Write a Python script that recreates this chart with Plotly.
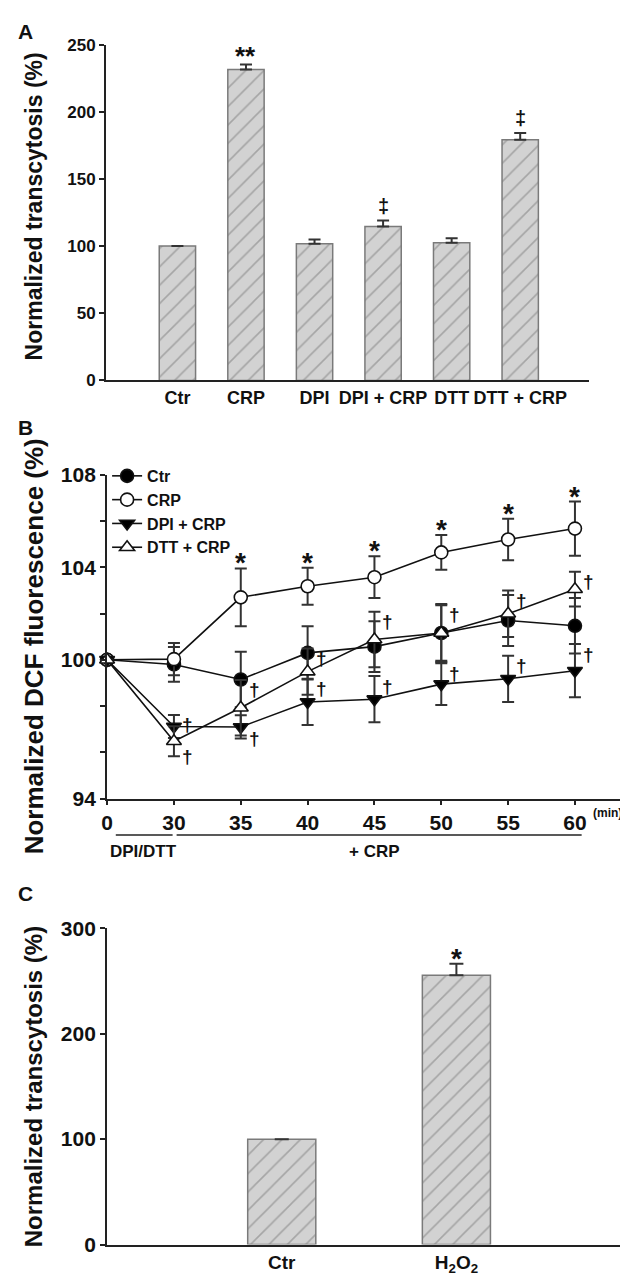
import plotly.graph_objects as go

# ---------------- Data ----------------
# Panel A
a_categories = ["Ctr", "CRP", "DPI", "DPI + CRP", "DTT", "DTT + CRP"]
a_values = [100, 231.5, 101.7, 114.5, 102.5, 179.2]
a_errors = [None, 3.6, 3.2, 4.5, 3.3, 5.0]
a_marks = ["", "**", "", "‡", "", "‡"]

# Panel B
b_times = ["0", "30", "35", "40", "45", "50", "55", "60"]
b_ctr = [100, 99.8, 99.15, 100.3, 100.57, 101.16, 101.7, 101.47]
b_ctr_err = [None, 0.75, 1.2, 1.15, 1.1, 1.2, 1.1, 1.2]
b_crp = [100, 100.03, 102.7, 103.18, 103.57, 104.64, 105.2, 105.67]
b_crp_err = [None, 0.7, 1.25, 0.8, 0.9, 0.75, 0.9, 1.17]
b_dpi = [100, 97.12, 97.1, 98.18, 98.3, 98.95, 99.18, 99.53]
b_dpi_err = [None, 0.5, 0.5, 1.0, 1.0, 0.9, 1.0, 1.15]
b_dtt = [100, 96.48, 97.93, 99.49, 100.88, 101.16, 101.99, 103.05]
b_dtt_err = [None, 0.65, 1.2, 1.0, 1.2, 1.25, 1.0, 0.75]
b_crp_marks = ["", "", "*", "*", "*", "*", "*", "*"]
b_dpi_marks = ["", "†", "†", "†", "†", "†", "†", "†"]
b_dpi_mark_side = ["", "up", "down", "up", "up", "up", "up", "up"]
b_dtt_marks = ["", "†", "†", "†", "†", "†", "†", "†"]
b_dtt_mark_side = ["", "down", "up", "up", "up", "up", "up", "up"]
b_major_ticks = [94, 100, 104, 108]
b_minor_ticks = [96, 98, 102, 106]

# Panel C
c_categories = ["Ctr", "H<sub>2</sub>O<sub>2</sub>"]
c_values = [100, 255.5]
c_errors = [None, 11]
c_marks = ["", "*"]

# ---------------- Style ----------------
W, H = 628, 1276
NARROW = "Liberation Sans Narrow, Liberation Sans, Arial, sans-serif"
SANS = "Liberation Sans, Arial, sans-serif"
BAR_FILL = "#d2d2d2"
BAR_LINE = "#7a7a7a"
AX = "#222222"
TXT = "#111111"


def px_x(p):
    return p / W


def px_y(p):
    return 1 - p / H


def no_minus(errs):
    return [None if e is None else 0 for e in errs]


def val_plus(vals, errs):
    return [v + (e or 0) for v, e in zip(vals, errs)]


def val_minus(vals, errs):
    return [v - (e or 0) for v, e in zip(vals, errs)]


fig = go.Figure()

bar_style = dict(
    marker=dict(
        color=BAR_FILL,
        line=dict(color=BAR_LINE, width=1.5),
        pattern=dict(shape="/", fgcolor="#777777", bgcolor=BAR_FILL, size=13, solidity=0.12),
    ),
    showlegend=False,
)

# Panel A bars
fig.add_trace(go.Bar(
    x=list(range(len(a_categories))), y=a_values, width=0.53,
    error_y=dict(type="data", array=a_errors, arrayminus=no_minus(a_errors),
                 symmetric=False, color="#333", thickness=2, width=6),
    xaxis="x", yaxis="y", **bar_style))

# Panel C bars
fig.add_trace(go.Bar(
    x=list(range(len(c_categories))), y=c_values, width=0.39,
    error_y=dict(type="data", array=c_errors, arrayminus=no_minus(c_errors),
                 symmetric=False, color="#333", thickness=2, width=7),
    xaxis="x3", yaxis="y3", **bar_style))

# Panel B lines
b_x = list(range(len(b_times)))
series = [
    ("Ctr", b_ctr, b_ctr_err, "circle", "black"),
    ("CRP", b_crp, b_crp_err, "circle", "white"),
    ("DPI + CRP", b_dpi, b_dpi_err, "triangle-down", "black"),
    ("DTT + CRP", b_dtt, b_dtt_err, "triangle-up", "white"),
]
for name, vals, errs, sym, fill in series:
    fig.add_trace(go.Scatter(
        x=b_x, y=vals, name=name, mode="lines+markers",
        line=dict(color="#111", width=1.6),
        marker=dict(symbol=sym, size=13, color=fill, line=dict(color="#111", width=1.6)),
        error_y=dict(type="data", array=errs, color="#333", thickness=2, width=6),
        cliponaxis=False,
        xaxis="x2", yaxis="y2"))

annotations = []

# Panel A significance marks
a_top = val_plus(a_values, a_errors)
for i, m in enumerate(a_marks):
    if m:
        annotations.append(dict(x=i, y=a_top[i], xref="x", yref="y", text=m, showarrow=False,
                                yanchor="bottom", yshift=(-8 if m == "**" else 2),
                                font=dict(family=SANS, size=(26 if m == "**" else 20),
                                          color=TXT, weight="bold")))

# Panel C significance marks
c_top = val_plus(c_values, c_errors)
for i, m in enumerate(c_marks):
    if m:
        annotations.append(dict(x=i, y=c_top[i], xref="x3", yref="y3", text=m, showarrow=False,
                                yanchor="bottom", yshift=-12,
                                font=dict(family=SANS, size=28, color=TXT, weight="bold")))

# Panel B marks
crp_top = val_plus(b_crp, b_crp_err)
for i, m in enumerate(b_crp_marks):
    if m:
        annotations.append(dict(x=i, y=crp_top[i], xref="x2", yref="y2", text=m,
                                showarrow=False, yanchor="bottom", yshift=-12,
                                font=dict(family=SANS, size=28, color=TXT, weight="bold")))
for vals, errs, marks, sides in ((b_dpi, b_dpi_err, b_dpi_marks, b_dpi_mark_side),
                                 (b_dtt, b_dtt_err, b_dtt_marks, b_dtt_mark_side)):
    tops, bots = val_plus(vals, errs), val_minus(vals, errs)
    for i, m in enumerate(marks):
        if not m:
            continue
        if sides[i] == "up":
            yy, ys = tops[i], -10
        else:
            yy, ys = bots[i], 0
        annotations.append(dict(x=i, y=yy, xref="x2", yref="y2", text=m, showarrow=False,
                                xanchor="left", xshift=6, yshift=ys,
                                font=dict(family=SANS, size=19, color=TXT, weight="bold")))

# Panel labels
for lab, yp in (("A", 12), ("B", 415), ("C", 890)):
    annotations.append(dict(x=px_x(12), y=px_y(yp), xref="paper", yref="paper", text=lab,
                            showarrow=False, xanchor="center", yanchor="middle",
                            font=dict(family=SANS, size=21, color=TXT, weight="bold")))

# Y titles
for txt, yc, fs in (("Normalized transcytosis (%)", 190, 23),
                    ("Normalized DCF fluorescence (%)", 638, 26),
                    ("Normalized transcytosis (%)", 1086, 24)):
    annotations.append(dict(x=px_x(20), y=px_y(yc), xref="paper", yref="paper", text=txt,
                            showarrow=False, textangle=-90, xanchor="center", yanchor="middle",
                            font=dict(family=SANS, size=fs, color=TXT, weight="bold")))

# (min) label
annotations.append(dict(x=px_x(583), y=px_y(808), xref="paper", yref="paper", text="(min)",
                        showarrow=False, xanchor="left", yanchor="middle",
                        font=dict(family=NARROW, size=12, color=TXT, weight="bold")))

# Treatment brackets under panel B
annotations.append(dict(x=0.55, y=px_y(847), xref="x2", yref="paper", text="DPI/DTT",
                        showarrow=False, xanchor="center", yanchor="middle",
                        font=dict(family=NARROW, size=17, color=TXT, weight="bold")))
annotations.append(dict(x=4.0, y=px_y(847), xref="x2", yref="paper", text="+ CRP",
                        showarrow=False, xanchor="center", yanchor="middle",
                        font=dict(family=NARROW, size=17, color=TXT, weight="bold")))

shapes = [
    dict(type="line", xref="x2", yref="paper", x0=0.13, x1=0.98, y0=px_y(830), y1=px_y(830),
         line=dict(color="#222", width=1.5)),
    dict(type="line", xref="x2", yref="paper", x0=1.04, x1=7.1, y0=px_y(830), y1=px_y(830),
         line=dict(color="#222", width=1.5)),
]

axis_common = dict(showline=True, linecolor=AX, linewidth=2, showgrid=False, zeroline=False,
                   color=TXT)

fig.update_layout(
    width=W, height=H,
    margin=dict(l=0, r=0, t=0, b=0),
    paper_bgcolor="white", plot_bgcolor="white",
    annotations=annotations,
    shapes=shapes,
    showlegend=True,
    legend=dict(x=px_x(94), y=px_y(447), xanchor="left", yanchor="top",
                bgcolor="rgba(0,0,0,0)", tracegroupgap=0, itemwidth=30,
                font=dict(family=NARROW, size=16, color=TXT, weight="bold")),
    xaxis=dict(domain=[px_x(93), px_x(581)], range=[-1.04, 6.01], anchor="y",
               tickvals=list(range(len(a_categories))), ticktext=a_categories, ticks="",
               tickangle=0,
               tickfont=dict(family=NARROW, size=18, color=TXT, weight="bold"),
               **axis_common),
    yaxis=dict(domain=[px_y(367), px_y(25)], range=[0, 250], anchor="x",
               tickvals=[0, 50, 100, 150, 200, 250], ticks="outside", ticklen=5, tickwidth=2,
               tickcolor=AX,
               tickfont=dict(family=NARROW, size=17, color=TXT, weight="bold"),
               **axis_common),
    xaxis2=dict(domain=[px_x(94), px_x(619)], range=[0, 7.78], anchor="y2",
                tickvals=b_x, ticktext=b_times, ticks="outside", ticklen=4, tickwidth=2,
                tickcolor=AX, tickangle=0,
                tickfont=dict(family=NARROW, size=21, color=TXT, weight="bold"),
                **axis_common),
    yaxis2=dict(domain=[px_y(793), px_y(463)], range=[94, 108], anchor="x2",
                tickvals=b_major_ticks,
                ticks="outside", ticklen=5, tickwidth=2, tickcolor=AX,
                minor=dict(tickvals=b_minor_ticks, ticks="outside", ticklen=5, tickwidth=2,
                           tickcolor=AX, showgrid=False),
                tickfont=dict(family=NARROW, size=21, color=TXT, weight="bold"),
                **axis_common),
    xaxis3=dict(domain=[px_x(94), px_x(623)], range=[-1, 2], anchor="y3",
                tickvals=list(range(len(c_categories))), ticktext=c_categories, ticks="",
                tickangle=0,
                tickfont=dict(family=NARROW, size=19, color=TXT, weight="bold"),
                **axis_common),
    yaxis3=dict(domain=[px_y(1247), px_y(925)], range=[0, 300], anchor="x3",
                tickvals=[0, 100, 200, 300], ticks="outside", ticklen=5, tickwidth=2,
                tickcolor=AX,
                tickfont=dict(family=NARROW, size=21, color=TXT, weight="bold"),
                **axis_common),
)

fig.write_html("out.html")
